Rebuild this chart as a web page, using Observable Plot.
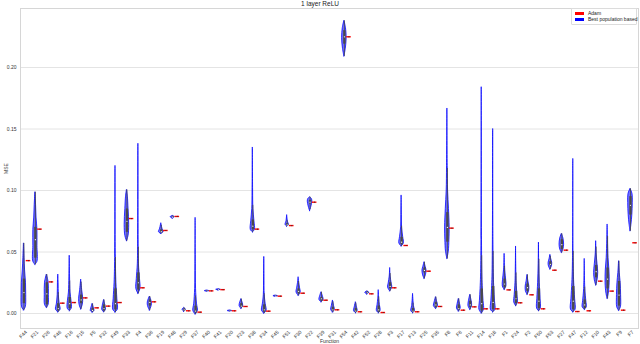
<!DOCTYPE html>
<html><head><meta charset="utf-8">
<script src="https://cdn.jsdelivr.net/npm/d3@7"></script>
<script src="https://cdn.jsdelivr.net/npm/@observablehq/plot@0.6"></script>
<style>
body{margin:0;background:#fff;font-family:"Liberation Sans",Arial,sans-serif;}
#wrap{position:relative;width:640px;height:344px;overflow:hidden;}
#title{position:absolute;top:0;left:0;width:640px;text-align:center;font-size:6.5px;line-height:7px;color:#222;}
#legend{position:absolute;left:571px;top:8px;width:64px;height:15px;border:1px solid #dcdcdc;border-radius:1px;background:#fff;font-size:5px;color:#222;}
.item{position:absolute;left:3px;height:5px;line-height:5px;white-space:nowrap;}
.sw{display:inline-block;width:9px;height:3px;vertical-align:middle;margin-right:4px;}
</style></head><body>
<div id="wrap">
<div id="chart"></div>
<div id="title">1 layer ReLU</div>
<div id="legend">
  <div class="item" style="top:2px"><span class="sw" style="background:#ff0000"></span>Adam</div>
  <div class="item" style="top:8px"><span class="sw" style="background:#0000ff"></span>Best population based</div>
</div>
</div>
<script>
const functions = ["F44","F21","F26","F46","F16","F15","F5","F32","F49","F33","F4","F36","F19","F48","F29","F37","F40","F41","F20","F23","F38","F34","F45","F51","F30","F22","F39","F31","F54","F42","F52","F28","F3","F17","F13","F25","F35","F8","F6","F11","F14","F18","F1","F24","F2","F50","F53","F27","F47","F12","F10","F43","F9","F7"];

const adam = [0.043,0.0686,0.0257,0.0084,0.0089,0.0127,0.0046,0.006,0.0089,0.0772,0.0209,0.0095,0.0675,0.0789,0.0022,0.0011,0.0184,0.0194,0.0022,0.0057,0.0686,0.0019,0.0141,0.0715,0.0165,0.0905,0.0108,0.003,0.225,0.0014,0.016,0.0008,0.0209,0.0553,0.0014,0.0344,0.0057,0.0694,0.0027,0.0054,0.0038,0.0038,0.0192,0.0087,0.0152,0.0038,0.0352,0.0515,0.0016,0.0022,0.0263,0.0182,0.0027,0.0575];

// Best population based: violin profile [value, relative half-width]
const bestShape = [
 [[.0025,0],[.005,.8],[.015,1],[.025,.9],[.035,.5],[.045,.25],[.057,0]],
 [[.0396,0],[.042,.9],[.055,.9],[.068,.9],[.078,.5],[.088,.3],[.0986,0]],
 [[.0046,0],[.007,.8],[.015,.9],[.025,.8],[.0317,0]],
 [[.001,0],[.003,1],[.008,.6],[.015,.25],[.025,.15],[.0317,0]],
 [[.002,0],[.004,.9],[.01,.8],[.017,.35],[.03,.15],[.047,0]],
 [[.0033,0],[.007,.7],[.012,.9],[.018,.5],[.0276,0]],
 [[.0008,0],[.002,.8],[.004,.6],[.0079,0]],
 [[.001,0],[.003,.8],[.006,.6],[.011,0]],
 [[.0008,0],[.003,1],[.012,.8],[.025,.4],[.045,.15],[.12,0]],
 [[.0588,0],[.063,.7],[.072,1],[.085,.7],[.095,.4],[.1005,0]],
 [[.016,0],[.02,.9],[.028,.7],[.04,.25],[.06,.12],[.138,0]],
 [[.0024,0],[.006,.8],[.009,.9],[.0138,0]],
 [[.0648,0],[.066,1],[.069,.5],[.0734,0]],
 [[.0772,0],[.0783,.9],[.0794,0]],
 [[.0014,0],[.003,.7],[.0046,0]],
 [[-.0008,0],[.002,1],[.008,.6],[.02,.2],[.04,.1],[.0778,0]],
 [[.0176,0],[.0182,1],[.0187,0]],
 [[.0188,0],[.0193,1],[.0198,0]],
 [[.0015,0],[.002,1],[.0025,0]],
 [[.0038,0],[.006,.8],[.009,.5],[.0117,0]],
 [[.066,0],[.068,.9],[.075,.7],[.085,.25],[.1,.12],[.135,0]],
 [[0,0],[.002,1],[.008,.6],[.015,.2],[.03,.1],[.046,0]],
 [[.0136,0],[.0141,1],[.0146,0]],
 [[.0707,0],[.072,.7],[.075,.3],[.08,0]],
 [[.0144,0],[.017,.9],[.021,.6],[.025,.25],[.0295,0]],
 [[.0832,0],[.087,.6],[.091,1],[.093,.8],[.0946,0]],
 [[.0092,0],[.011,.9],[.014,.6],[.0173,0]],
 [[.0008,0],[.003,.8],[.006,.5],[.0106,0]],
 [[.209,0],[.215,.6],[.224,1],[.232,.7],[.238,0]],
 [[.0003,0],[.002,.8],[.005,.5],[.0092,0]],
 [[.0155,0],[.0168,.9],[.018,0]],
 [[.0003,0],[.002,.8],[.007,.5],[.012,.2],[.019,0]],
 [[.018,0],[.021,.9],[.025,.6],[.03,.2],[.037,0]],
 [[.0545,0],[.057,1],[.062,.7],[.07,.2],[.08,.12],[.096,0]],
 [[.0003,0],[.002,.8],[.006,.4],[.016,0]],
 [[.0282,0],[.031,.6],[.035,.9],[.038,.5],[.0417,0]],
 [[.0038,0],[.006,.9],[.009,.6],[.0133,0]],
 [[.0444,0],[.05,.6],[.06,.9],[.07,1],[.085,.7],[.1,.3],[.12,.15],[.1667,0]],
 [[.0016,0],[.004,.8],[.008,.5],[.0119,0]],
 [[.003,0],[.006,.8],[.01,.6],[.0152,0]],
 [[0,0],[.003,1],[.01,.8],[.02,.5],[.03,.3],[.06,.12],[.184,0]],
 [[.001,0],[.003,1],[.01,.8],[.02,.5],[.03,.3],[.06,.12],[.15,0]],
 [[.0192,0],[.022,.8],[.027,.7],[.035,.25],[.0485,0]],
 [[.006,0],[.009,.8],[.015,.6],[.025,.25],[.0545,0]],
 [[.0152,0],[.018,.7],[.022,.8],[.026,.4],[.0314,0]],
 [[.0019,0],[.004,.8],[.012,.7],[.025,.35],[.04,.12],[.0577,0]],
 [[.0358,0],[.038,.6],[.041,.8],[.044,.4],[.0477,0]],
 [[.0493,0],[.052,.7],[.056,1],[.061,.7],[.0648,0]],
 [[.001,0],[.003,1],[.012,.8],[.025,.4],[.045,.12],[.1257,0]],
 [[.003,0],[.005,.9],[.01,.7],[.02,.25],[.0444,0]],
 [[.0228,0],[.027,.6],[.033,.9],[.04,.6],[.048,.2],[.0588,0]],
 [[.0119,0],[.016,.5],[.025,.9],[.035,.8],[.045,.4],[.06,.15],[.0724,0]],
 [[.0022,0],[.005,.8],[.015,.9],[.025,.7],[.033,.3],[.0425,0]],
 [[.0669,0],[.072,.4],[.08,.8],[.09,1],[.097,.9],[.1014,0]]
];

const boxQ1  = [.008,.045,.007,.002,.004,.008,.0015,.002,.003,.066,.019,.006,.0655,.078,.002,.0005,.0179,.0191,.0018,.005,.068,.001,.0139,.0712,.016,.089,.01,.002,.219,.001,.0163,.001,.02,.056,.001,.033,.005,.058,.003,.005,.002,.003,.021,.008,.018,.004,.039,.052,.003,.004,.029,.02,.006,.08];
const boxMed = [.017,.06,.016,.004,.008,.011,.0025,.004,.008,.075,.025,.009,.0665,.0783,.003,.002,.0182,.0193,.002,.006,.071,.003,.0141,.072,.018,.0905,.012,.003,.225,.002,.0168,.003,.022,.058,.002,.035,.007,.07,.004,.007,.008,.009,.024,.012,.021,.01,.04,.056,.01,.007,.034,.028,.015,.088];
const boxQ3  = [.028,.07,.025,.008,.013,.015,.004,.007,.02,.085,.033,.011,.068,.0786,.0035,.006,.0185,.0195,.0022,.008,.076,.007,.0143,.073,.02,.092,.013,.005,.23,.004,.0173,.006,.025,.062,.004,.037,.009,.082,.007,.01,.02,.022,.028,.018,.024,.02,.042,.06,.022,.011,.039,.037,.026,.095];

const yTicks = [0, 0.05, 0.10, 0.15, 0.20];

const DODGE = 0.2, HALF = 0.2;
const violinRows = bestShape.flatMap((prof, i) => prof.map(([v, w]) => ({i, v, w})));
const boxes = functions.map((f, i) => {
  const lo = bestShape[i][0][0], hi = bestShape[i][bestShape[i].length - 1][0];
  const iqr = boxQ3[i] - boxQ1[i];
  return {i, q1: boxQ1[i], med: boxMed[i], q3: boxQ3[i],
    wlo: Math.max(lo, boxQ1[i] - 1.5 * iqr), whi: Math.min(hi, boxQ3[i] + 1.5 * iqr)};
});
const adamRows = adam.map((v, i) => ({i, v}));

const chart = Plot.plot({
  width: 640, height: 344,
  marginLeft: 20, marginRight: 2, marginTop: 8, marginBottom: 16,
  style: {fontFamily: "'Liberation Sans', Arial, sans-serif", background: "#fff", color: "#333"},
  x: {domain: [-0.5, functions.length - 0.5]},
  y: {domain: [-0.0122, 0.248]},
  marks: [
    Plot.gridY(yTicks, {stroke: "#e4e4e4", strokeOpacity: 1, strokeWidth: 1}),
    Plot.frame({stroke: "#d6d6d6", strokeWidth: 1}),
    Plot.axisY(yTicks, {tickFormat: ".2f", tickSize: 0, tickPadding: 4, fontSize: 5,
      label: "MSE", labelAnchor: "center", labelArrow: "none", labelOffset: 16}),
    Plot.axisX(d3.range(functions.length), {tickFormat: i => functions[i], tickSize: 0, tickPadding: 3,
      tickRotate: -45, fontSize: 5, label: "Function", labelAnchor: "center", labelArrow: "none", labelOffset: 14}),
    Plot.areaX(violinRows, {y: "v", x1: d => d.i - DODGE - d.w * HALF, x2: d => d.i - DODGE + d.w * HALF,
      z: "i", curve: "catmull-rom", fill: "#0000ff", fillOpacity: 0.55, stroke: "#0000ff", strokeWidth: 0.9, strokeOpacity: 0.85}),
    Plot.ruleX(boxes, {x: d => d.i - DODGE, y1: "wlo", y2: "whi", stroke: "#444", strokeWidth: 0.8}),
    Plot.ruleX(boxes, {x: d => d.i - DODGE, y1: "q1", y2: "q3", stroke: "#4a4a4a", strokeWidth: 2.4}),
    Plot.dot(boxes, {x: d => d.i - DODGE, y: "med", r: 0.6, fill: "#fff", stroke: "none"}),
    Plot.ruleY(adamRows, {y: "v", x1: d => d.i + DODGE - HALF, x2: d => d.i + DODGE + HALF, stroke: "#ff0000", strokeWidth: 1.4}),
    Plot.dot(adamRows, {x: d => d.i + DODGE, y: "v", r: 0.6, fill: "#333", stroke: "none"})
  ]
});
document.getElementById("chart").appendChild(chart);
</script>
</body></html>
